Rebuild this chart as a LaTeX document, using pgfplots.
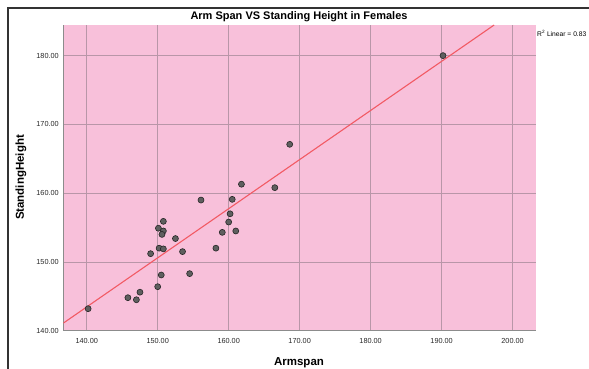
\documentclass[border=0pt]{standalone}
\usepackage{pgfplots}
\pgfplotsset{compat=1.18}
\usepackage{fontspec}
\setmainfont{Liberation Sans}
\definecolor{bgpink}{RGB}{248,192,218}
\definecolor{gridc}{RGB}{185,150,168}
\definecolor{fitred}{RGB}{242,90,100}
\definecolor{markg}{RGB}{95,95,95}
\begin{document}
\begin{tikzpicture}[x=1pt,y=1pt]
\path[use as bounding box] (0,0) rectangle (589,368);
\clip (0,0) rectangle (589,368);
\draw[line width=1.3pt, black!80] (8,-5) -- (8,360) -- (600,360);
\begin{axis}[
  at={(63.3pt,37.3pt)}, anchor=south west,
  scale only axis, width=472.7pt, height=305.7pt,
  xmin=136.7, xmax=203.3, ymin=140, ymax=184.45,
  axis background/.style={fill=bgpink},
  axis lines=left, axis line style={-, draw=black!45, line width=0.8pt},
  xtick={140,150,...,200}, ytick={140,150,...,180},
  major tick length=0pt,
  grid=major, major grid style={gridc, line width=0.8pt},
  /pgf/number format/assume math mode=true,
  /pgf/number format/fixed,
  /pgf/number format/fixed zerofill,
  /pgf/number format/precision=2,
  ticklabel style={font=\fontsize{7.3}{8}\selectfont, text=black!85},
  xticklabel style={yshift=-4pt},
  yticklabel style={xshift=-1pt},
  clip=true,
]
\addplot[fitred, line width=1.1pt] coordinates {(136.7,141.1) (197.4,184.45)};
\addplot[only marks, mark=*, mark size=3pt, mark options={fill=markg, draw=black!85, line width=0.6pt}] coordinates {
(140.2,143.2) (145.8,144.8) (147.0,144.5) (147.5,145.6) (150.0,146.4)
(150.5,148.1) (154.5,148.3) (149.0,151.2) (150.2,152.0) (150.8,151.9)
(152.5,153.4) (153.5,151.5) (150.1,154.9) (150.8,155.9) (150.8,154.5)
(150.6,154.0) (156.1,159.0) (158.2,152.0) (159.1,154.3) (160.0,155.8)
(160.2,157.0) (160.5,159.1) (161.0,154.5) (161.8,161.3) (166.5,160.8)
(168.6,167.1) (190.2,180.0)
};
\end{axis}
\node[font=\bfseries\fontsize{11}{13}\selectfont] at (299,351) {Arm Span VS Standing Height in Females};
\node[font=\bfseries\fontsize{11.5}{13}\selectfont, rotate=90] at (21,190.5) {StandingHeight};
\node[font=\bfseries\fontsize{11.5}{13}\selectfont] at (299,5.5) {Armspan};
\node[font=\fontsize{6.7}{8}\selectfont, anchor=west, inner sep=0pt] at (537,335) {R\textsuperscript{2} Linear = 0.83};
\end{tikzpicture}
\end{document}
